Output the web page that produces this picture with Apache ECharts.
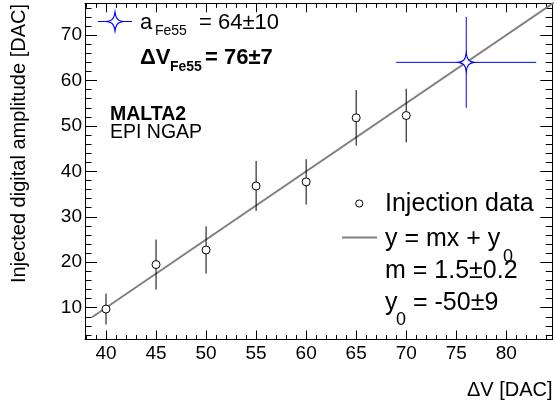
<!DOCTYPE html>
<html>
<head>
<meta charset="utf-8">
<script src="https://cdn.jsdelivr.net/npm/echarts@6/dist/echarts.min.js"></script>
<style>
  html, body { margin: 0; padding: 0; background: #fff; }
  #chart { width: 555px; height: 407px; }
</style>
</head>
<body>
<div id="chart"></div>
<script>
// Injection scan: digital amplitude vs. injected ΔV
const injectionX   = [40, 45, 50, 55, 60, 65, 70];
const injectionY   = [9.7, 19.5, 22.7, 36.8, 37.7, 51.8, 52.3];
const injectionErr = [3.4, 5.5, 5.2, 5.5, 5.0, 6.1, 5.9];

// Fe55 calibration point
const fe55X    = [76];
const fe55XErr = [7];
const fe55Y    = [64];
const fe55YErr = [10];

// Linear fit y = m x + y0
const fitSlope = 1.5;
const fitIntercept = -50;
const fitRange = [38.6, 85];

// Axes
const xRange = [37.9, 84.6];
const yRange = [3, 77];
const xTicks = [40, 45, 50, 55, 60, 65, 70, 75, 80];
const yTicks = [10, 20, 30, 40, 50, 60, 70];

const xMinor = [];
for (let v = 38; v <= 84; v += 1) if (v % 5 !== 0) xMinor.push(v);
const yMinor = [];
for (let v = 4; v <= 76; v += 2) if (v % 10 !== 0) yMinor.push(v);

const FONT = "'Liberation Sans', Arial, Helvetica, sans-serif";
const BLUE = '#0000ff';
const FIT_GRAY = '#7f7f7f';

function xAxisDef(position, ticks, len, withLabels, showLine) {
  return {
    type: 'value', min: xRange[0], max: xRange[1], position: position,
    axisLine: { show: showLine, onZero: false, lineStyle: { color: '#000', width: 1 } },
    splitLine: { show: false },
    axisTick: { show: true, inside: true, length: len, customValues: ticks,
                lineStyle: { color: '#000', width: 1 } },
    axisLabel: withLabels
      ? { show: true, customValues: ticks, color: '#000', fontSize: 19, fontFamily: FONT, margin: 5 }
      : { show: false }
  };
}
function yAxisDef(position, ticks, len, withLabels, showLine) {
  return {
    type: 'value', min: yRange[0], max: yRange[1], position: position,
    axisLine: { show: showLine, onZero: false, lineStyle: { color: '#000', width: 1 } },
    splitLine: { show: false },
    axisTick: { show: true, inside: true, length: len, customValues: ticks,
                lineStyle: { color: '#000', width: 1 } },
    axisLabel: withLabels
      ? { show: true, customValues: ticks, color: '#000', fontSize: 19, fontFamily: FONT, margin: 3 }
      : { show: false }
  };
}

const injectionData = injectionX.map((x, i) => [x, injectionY[i], 0, injectionErr[i]]);
const fe55Data = fe55X.map((x, i) => [x, fe55Y[i], fe55XErr[i], fe55YErr[i]]);
const fitData = fitRange.map(x => [x, fitSlope * x + fitIntercept]);

function errorBars(color) {
  return function (params, api) {
    const x = api.value(0), y = api.value(1), ex = api.value(2), ey = api.value(3);
    const children = [];
    const t = api.coord([x, y + ey]), b = api.coord([x, y - ey]);
    children.push({ type: 'line', shape: { x1: t[0], y1: t[1], x2: b[0], y2: b[1] },
                    style: { stroke: color, lineWidth: 1 } });
    if (ex > 0) {
      const l = api.coord([x - ex, y]), r = api.coord([x + ex, y]);
      children.push({ type: 'line', shape: { x1: l[0], y1: l[1], x2: r[0], y2: r[1] },
                      style: { stroke: color, lineWidth: 1 } });
    }
    return { type: 'group', children: children };
  };
}

// Four-pointed star marker with concave sides
const STAR_PATH = 'path://M0,-9C0.9,-2.6 2.6,-0.9 7,0C2.6,0.9 0.9,2.6 0,9C-0.9,2.6 -2.6,0.9 -7,0C-2.6,-0.9 -0.9,-2.6 0,-9Z';

// Same star as a polygon outline (for the annotation key), centred on (cx, cy)
function starPolygon(cx, cy, hw, hh) {
  const pts = [];
  const tips = [[0, -hh], [hw, 0], [0, hh], [-hw, 0], [0, -hh]];
  for (let q = 0; q < 4; q++) {
    const p0 = tips[q], p3 = tips[q + 1];
    // control points pulled toward the centre
    const p1 = [p0[0] * 0.1 + p3[0] * 0.35, p0[1] * 0.3 + p3[1] * 0.1];
    const p2 = [p0[0] * 0.1 + p3[0] * 0.35, p0[1] * 0.1 + p3[1] * 0.3];
    const c1 = [p0[0] ? p0[0] * 0.35 : p3[0] * 0.12, p0[1] ? p0[1] * 0.3 : p3[1] * 0.1];
    const c2 = [p3[0] ? p3[0] * 0.35 : p0[0] * 0.12, p3[1] ? p3[1] * 0.3 : p0[1] * 0.1];
    for (let k = 0; k < 10; k++) {
      const t = k / 10, u = 1 - t;
      const x = u*u*u*p0[0] + 3*u*u*t*c1[0] + 3*u*t*t*c2[0] + t*t*t*p3[0];
      const y = u*u*u*p0[1] + 3*u*u*t*c1[1] + 3*u*t*t*c2[1] + t*t*t*p3[1];
      pts.push([cx + x, cy + y]);
    }
  }
  return pts;
}

function txt(x, y, text, size, opts) {
  opts = opts || {};
  return {
    type: 'text', x: x, y: y, rotation: opts.rotation || 0, z: 100,
    style: {
      text: text, fill: '#000',
      font: (opts.bold ? 'bold ' : '') + size + 'px ' + FONT,
      align: opts.align || 'left', verticalAlign: 'middle'
    }
  };
}

const chart = echarts.init(document.getElementById('chart'), null, { renderer: 'canvas' });
chart.setOption({
  animation: false,
  backgroundColor: '#fff',
  grid: { left: 85, right: 2.7, top: 3.3, bottom: 67.5, containLabel: false },
  xAxis: [
    xAxisDef('bottom', xTicks, 9, true, true),
    xAxisDef('bottom', xMinor, 4.5, false, false),
    xAxisDef('top', xTicks, 9, false, true),
    xAxisDef('top', xMinor, 4.5, false, false)
  ],
  yAxis: [
    yAxisDef('left', yTicks, 12, true, true),
    yAxisDef('left', yMinor, 6.5, false, false),
    yAxisDef('right', yTicks, 12, false, true),
    yAxisDef('right', yMinor, 6.5, false, false)
  ],
  series: [
    {
      name: 'Fit', type: 'line', data: fitData, showSymbol: false, symbol: 'none',
      clip: true, z: 2,
      lineStyle: { color: FIT_GRAY, width: 2 }
    },
    {
      name: 'Injection errors', type: 'custom', data: injectionData, z: 3,
      renderItem: errorBars('#000'), encode: { x: 0, y: 1 }
    },
    {
      name: 'Injection data', type: 'scatter', data: injectionData, z: 4,
      symbol: 'circle', symbolSize: 8,
      itemStyle: { color: '#fff', borderColor: '#000', borderWidth: 1, opacity: 1 }
    },
    {
      name: 'Fe55 errors', type: 'custom', data: fe55Data, z: 3,
      renderItem: errorBars(BLUE), encode: { x: 0, y: 1 }
    },
    {
      name: 'Fe55', type: 'scatter', data: fe55Data, z: 4,
      symbol: STAR_PATH, symbolSize: [15, 18],
      itemStyle: { color: '#fff', borderColor: BLUE, borderWidth: 1.2, opacity: 1 }
    }
  ],
  graphic: [
    // Axis titles
    txt(19.5, 4, 'Injected digital amplitude [DAC]', 20, { rotation: Math.PI / 2, align: 'right' }),
    txt(552.5, 390, 'ΔV [DAC]', 20, { align: 'right' }),

    // Fe55 annotation
    { type: 'line', z: 100, shape: { x1: 98, y1: 21.5, x2: 132, y2: 21.5 }, style: { stroke: BLUE, lineWidth: 1 } },
    { type: 'polygon', z: 101, shape: { points: starPolygon(115, 21.5, 8, 9.5) },
      style: { fill: '#fff', stroke: BLUE, lineWidth: 1.2 } },
    txt(140, 22.5, 'a', 22),
    txt(155, 31, 'Fe55', 14),
    txt(199, 22.5, '= 64±10', 22),
    txt(140, 57.5, 'ΔV', 22, { bold: true }),
    txt(170, 67, 'Fe55', 14, { bold: true }),
    txt(205, 57.5, '= 76±7', 22, { bold: true }),

    // Device labels
    txt(110, 115, 'MALTA2', 19.5, { bold: true }),
    txt(110, 133, 'EPI NGAP', 19.5),

    // Legend
    { type: 'circle', z: 100, shape: { cx: 359.3, cy: 203.5, r: 3.6 },
      style: { fill: '#fff', stroke: '#000', lineWidth: 1 } },
    txt(385, 204, 'Injection data', 25),
    { type: 'line', z: 100, shape: { x1: 342, y1: 237.5, x2: 377, y2: 237.5 },
      style: { stroke: FIT_GRAY, lineWidth: 2 } },
    txt(385, 239.5, 'y = mx + y', 25),
    txt(503, 257, '0', 18),
    txt(385, 271.5, 'm = 1.5±0.2', 25),
    txt(385, 303.5, 'y', 25),
    txt(396, 320, '0', 18),
    txt(413, 303.5, '= -50±9', 25)
  ]
});
</script>
</body>
</html>
